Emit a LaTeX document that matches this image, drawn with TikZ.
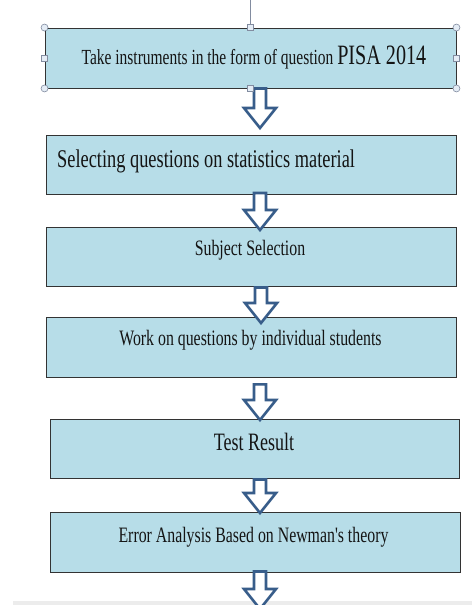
\documentclass[tikz,border=0pt]{standalone}
\usepackage{fontspec}
\setmainfont{Liberation Serif}
\usetikzlibrary{calc}
\definecolor{boxfill}{RGB}{183,221,232}
\definecolor{arrowline}{RGB}{56,93,138}
\definecolor{handleline}{RGB}{130,140,160}
\definecolor{handlefill}{RGB}{228,236,245}
\definecolor{bandgray}{RGB}{236,236,236}
\definecolor{textcol}{RGB}{20,20,20}
\newcommand\hx{0.72}
\newcommand\flowtext[2]{\fontsize{#1}{#1}\selectfont\scalebox{\hx}[1]{#2}}
\newcommand\blockarr[2]{\draw[blockarrow] ($(#1)+(-6,0)$) -- ($(#1)+(6,0)$) -- ($(#2)+(6,-20)$) -- ($(#2)+(16,-20)$) -- (#2) -- ($(#2)+(-16,-20)$) -- ($(#2)+(-6,-20)$) -- cycle;}
\begin{document}
\begin{tikzpicture}[x=1pt,y=-1pt,
 box/.style={draw=black!80, line width=0.9pt, fill=boxfill, rectangle, inner sep=0pt},
 flowlabel/.style={anchor=base, inner sep=0pt, text=textcol},
 blockarrow/.style={draw=arrowline, line width=2.6pt, fill=white, line join=miter},
 handlecirc/.style={circle, draw=handleline, fill=handlefill, line width=0.6pt, minimum size=7pt, inner sep=0pt},
 handlesq/.style={rectangle, draw=handleline, fill=handlefill, line width=0.6pt, minimum size=6pt, inner sep=0pt}]
\useasboundingbox[fill=white] (0,0) rectangle (472,605);
\fill[bandgray] (13,601) rectangle (472,605);

\node[box, minimum width=411pt, minimum height=60pt] (b1) at (250.5,58) {};
\node[box, minimum width=410pt, minimum height=59pt] (b2) at (251,164.5) {};
\node[box, minimum width=410pt, minimum height=59pt] (b3) at (251,256.5) {};
\node[box, minimum width=410pt, minimum height=60pt] (b4) at (251,347) {};
\node[box, minimum width=409pt, minimum height=59pt] (b5) at (254.5,448.5) {};
\node[box, minimum width=410pt, minimum height=60pt] (b6) at (255,542) {};

\node[flowlabel] (t1) at (254,64) {\flowtext{21.5}{Take instruments in the form of question }\flowtext{28}{PISA 2014}};
\node[flowlabel, anchor=base west] (t2) at (57,167) {\flowtext{25.5}{Selecting questions on statistics material}};
\node[flowlabel] (t3) at (250,255) {\flowtext{22}{Subject Selection}};
\node[flowlabel] (t4) at (250.5,345) {\flowtext{22}{Work on questions by individual students}};
\node[flowlabel] (t5) at (254,450) {\flowtext{25}{Test Result}};
\node[flowlabel] (t6) at (253.5,542) {\flowtext{22}{Error Analysis Based on Newman\textquotesingle s theory}};

\coordinate (a1s) at (260,88.5);  \coordinate (a1t) at (260,128);
\coordinate (a2s) at (260,193);   \coordinate (a2t) at (260,230);
\coordinate (a3s) at (261,287.5); \coordinate (a3t) at (261,323);
\coordinate (a4s) at (260,384.3); \coordinate (a4t) at (260,420);
\coordinate (a5s) at (260,479.5); \coordinate (a5t) at (260,513);
\coordinate (a6s) at (260,571.5); \coordinate (a6t) at (260,609);
\blockarr{a1s}{a1t}
\blockarr{a2s}{a2t}
\blockarr{a3s}{a3t}
\blockarr{a4s}{a4t}
\blockarr{a5s}{a5t}
\blockarr{a6s}{a6t}

\coordinate (rot) at (250.5,0);
\draw[handleline, line width=0.7pt] (b1.north) -- (rot);
\foreach \c in {north west,north east,south west,south east}
  \node[handlecirc] at (b1.\c) {};
\foreach \c in {north,south,west,east}
  \node[handlesq] at (b1.\c) {};
\end{tikzpicture}
\end{document}
